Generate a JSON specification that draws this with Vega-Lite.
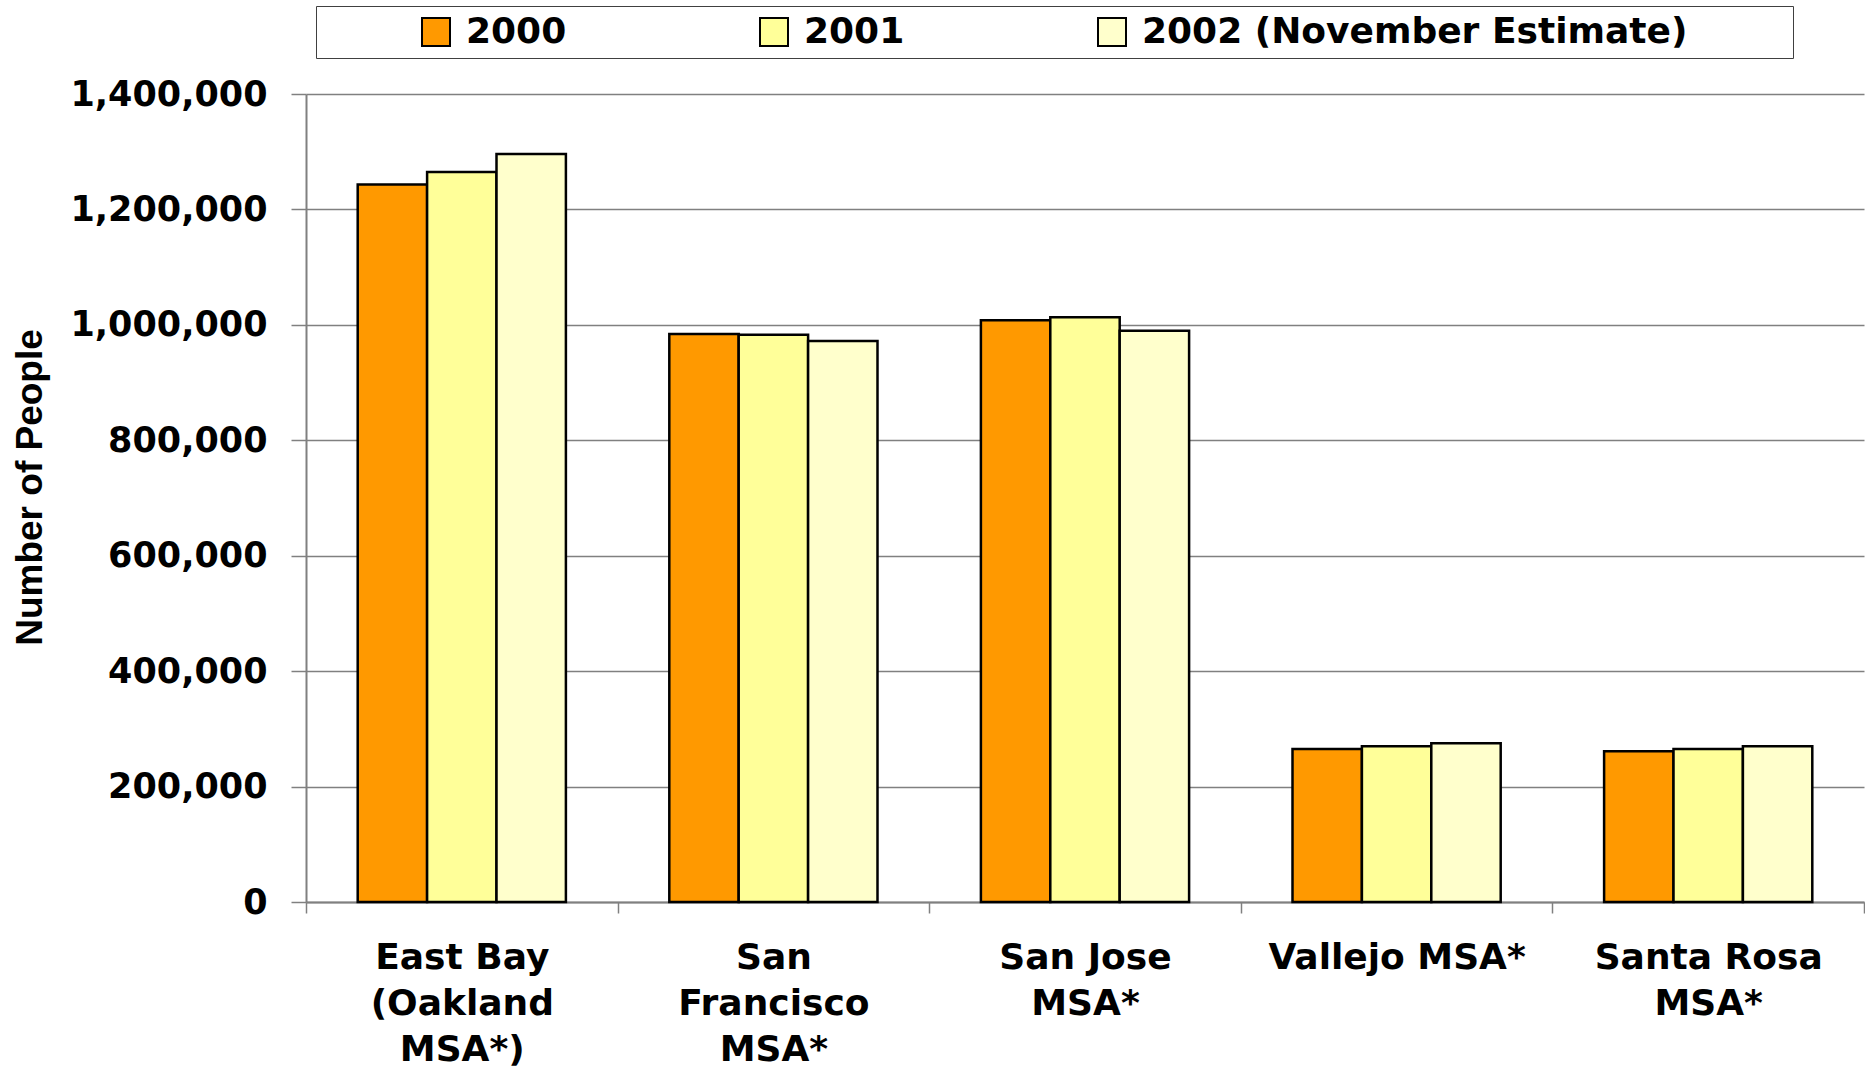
{
  "$schema": "https://vega.github.io/schema/vega-lite/v6.json",
  "autosize": "none",
  "width": 1558,
  "height": 808,
  "padding": {"left": 306, "top": 94, "right": 1, "bottom": 166},
  "background": "white",
  "data": {
    "values": [
      {"region": "East Bay (Oakland MSA*)", "year": "2000", "people": 1243000},
      {"region": "East Bay (Oakland MSA*)", "year": "2001", "people": 1265000},
      {"region": "East Bay (Oakland MSA*)", "year": "2002 (November Estimate)", "people": 1296000},
      {"region": "San Francisco MSA*", "year": "2000", "people": 984000},
      {"region": "San Francisco MSA*", "year": "2001", "people": 983000},
      {"region": "San Francisco MSA*", "year": "2002 (November Estimate)", "people": 972000},
      {"region": "San Jose MSA*", "year": "2000", "people": 1008000},
      {"region": "San Jose MSA*", "year": "2001", "people": 1013000},
      {"region": "San Jose MSA*", "year": "2002 (November Estimate)", "people": 990000},
      {"region": "Vallejo MSA*", "year": "2000", "people": 265000},
      {"region": "Vallejo MSA*", "year": "2001", "people": 270000},
      {"region": "Vallejo MSA*", "year": "2002 (November Estimate)", "people": 275000},
      {"region": "Santa Rosa MSA*", "year": "2000", "people": 261000},
      {"region": "Santa Rosa MSA*", "year": "2001", "people": 265000},
      {"region": "Santa Rosa MSA*", "year": "2002 (November Estimate)", "people": 270000}
    ]
  },
  "mark": {"type": "bar", "stroke": "black", "strokeWidth": 2.5},
  "encoding": {
    "x": {
      "field": "region",
      "type": "nominal",
      "sort": null,
      "scale": {"paddingInner": 0, "paddingOuter": 0},
      "axis": {
        "title": null,
        "labelAngle": 0,
        "labelAlign": "center",
        "labelBaseline": "top",
        "labelFont": "DejaVu Sans",
        "labelFontWeight": "bold",
        "labelFontSize": 36,
        "labelColor": "black",
        "labelLineHeight": 46,
        "labelPadding": 27,
        "labelLimit": 400,
        "tickBand": "extent",
        "tickSize": 11,
        "tickColor": "#808080",
        "tickWidth": 1.5,
        "domainColor": "#808080",
        "domainWidth": 2,
        "grid": false,
        "labelExpr": "datum.value == 'East Bay (Oakland MSA*)' ? ['East Bay', '(Oakland', 'MSA*)'] : datum.value == 'San Francisco MSA*' ? ['San', 'Francisco', 'MSA*'] : datum.value == 'San Jose MSA*' ? ['San Jose', 'MSA*'] : datum.value == 'Santa Rosa MSA*' ? ['Santa Rosa', 'MSA*'] : datum.value"
      }
    },
    "xOffset": {
      "field": "year",
      "type": "nominal",
      "scale": {"paddingInner": 0, "paddingOuter": 0.745}
    },
    "y": {
      "field": "people",
      "type": "quantitative",
      "scale": {"domain": [0, 1400000], "nice": false},
      "axis": {
        "title": "Number of People",
        "titleFont": "Liberation Sans",
        "titleFontWeight": "bold",
        "titleFontSize": 37,
        "titleColor": "black",
        "titleAngle": -90,
        "titleAlign": "center",
        "titleBaseline": "bottom",
        "titleX": -257,
        "titleY": 393,
        "values": [0, 200000, 400000, 600000, 800000, 1000000, 1200000, 1400000],
        "format": ",.0f",
        "labelFont": "DejaVu Sans",
        "labelFontWeight": "bold",
        "labelFontSize": 35,
        "labelColor": "black",
        "labelPadding": 24,
        "labelLimit": 400,
        "tickSize": 15,
        "tickColor": "#808080",
        "tickWidth": 1.5,
        "domainColor": "#808080",
        "domainWidth": 2,
        "grid": true,
        "gridColor": "#808080",
        "gridWidth": 1.5
      }
    },
    "fill": {
      "field": "year",
      "type": "nominal",
      "scale": {
        "domain": ["2000", "2001", "2002 (November Estimate)"],
        "range": ["#FF9900", "#FFFF99", "#FFFFCC"]
      },
      "legend": {
        "orient": "none",
        "legendX": 10,
        "legendY": -88,
        "direction": "horizontal",
        "columns": 3,
        "columnPadding": 189,
        "title": "\u00a0",
        "titleOrient": "left",
        "titlePadding": 94,
        "titleFont": "DejaVu Sans",
        "titleFontSize": 36,
        "padding": 8,
        "strokeColor": "#404040",
        "fillColor": "white",
        "symbolType": "square",
        "symbolSize": 784,
        "symbolStrokeColor": "black",
        "symbolStrokeWidth": 2,
        "symbolOpacity": 1,
        "labelFont": "DejaVu Sans",
        "labelFontWeight": "bold",
        "labelFontSize": 36,
        "labelColor": "black",
        "labelOffset": 12,
        "labelLimit": 800,
        "labelExpr": "datum.label == '2002 (November Estimate)' ? datum.label + '\u2800\u00a0\u2800\u2800' : datum.label"
      }
    }
  },
  "config": {
    "view": {"stroke": null},
    "axis": {"labelFlush": false, "labelOverlap": false}
  }
}
